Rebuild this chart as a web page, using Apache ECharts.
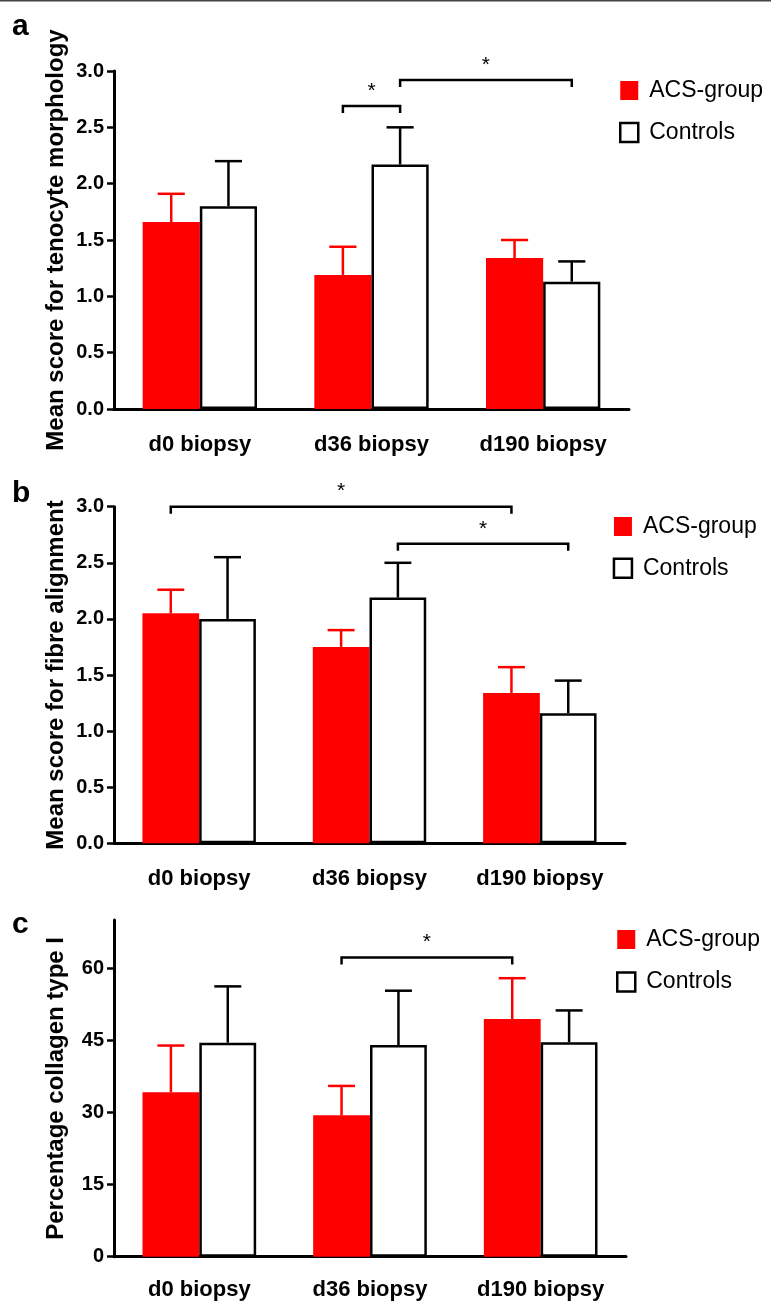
<!DOCTYPE html>
<html>
<head>
<meta charset="utf-8">
<script src="https://cdn.jsdelivr.net/npm/echarts@6/dist/echarts.min.js"></script>
<style>
html,body{margin:0;padding:0;background:#fff;}
#chart{width:771px;height:1301px;}
</style>
</head>
<body>
<div id="chart"></div>
<script>
// ---------- data ----------
const categories = ['d0 biopsy', 'd36 biopsy', 'd190 biopsy'];
const seriesNames = ['ACS-group', 'Controls'];

// Panel a: tenocyte morphology
const aAcsMean = [1.66, 1.19, 1.34];
const aAcsErr  = [0.25, 0.25, 0.16];
const aCtrlMean = [1.80, 2.17, 1.13];
const aCtrlErr  = [0.40, 0.33, 0.18];
const aTicks = [0, 0.5, 1.0, 1.5, 2.0, 2.5, 3.0];
// brackets: [category1, group1, category2, group2, y]
const aBrackets = [[1, 0, 1, 1, 2.69], [1, 1, 2, 1, 2.92]];

// Panel b: fibre alignment
const bAcsMean = [2.05, 1.75, 1.34];
const bAcsErr  = [0.21, 0.15, 0.23];
const bCtrlMean = [2.00, 2.19, 1.16];
const bCtrlErr  = [0.55, 0.31, 0.29];
const bTicks = [0, 0.5, 1.0, 1.5, 2.0, 2.5, 3.0];
const bBrackets = [[0, 0, 2, 0, 3.0], [1, 1, 2, 1, 2.67]];

// Panel c: collagen type I
const cAcsMean = [34.2, 29.4, 49.4];
const cAcsErr  = [9.7, 6.1, 8.5];
const cCtrlMean = [44.5, 44.0, 44.6];
const cCtrlErr  = [11.7, 11.3, 6.6];
const cTicks = [0, 15, 30, 45, 60];
const cBrackets = [[1, 0, 2, 0, 62.2]];

const yTitles = ['Mean score for tenocyte morphology', 'Mean score for fibre alignment', 'Percentage collagen type I'];
const panelLetters = ['a', 'b', 'c'];

// ---------- layout ----------
const FONT = '"Liberation Sans", Arial, Helvetica, sans-serif';
const RED = '#ff0000';
const grids = [
  {left: 114, right: 142, top: 71, bottom: 892},
  {left: 114, right: 146, top: 506.7, bottom: 457.7},
  {left: 114, right: 145, top: 920, bottom: 44.3}
];
const xLabelMargin = [25, 25, 22];
const yRanges = [
  {min: 0, max: 3, interval: 0.5, ticks: aTicks, dec: 1},
  {min: 0, max: 3, interval: 0.5, ticks: bTicks, dec: 1},
  {min: 0, max: 70, interval: 15, ticks: cTicks, dec: 0}
];
const legendPos = [
  {left: 619, top: 79, gap: 19},
  {left: 612.7, top: 515, gap: 18.7},
  {left: 616, top: 928, gap: 19.5}
];
const letterBase = [35, 502, 933];

const panels = [
  {acs: aAcsMean, acsErr: aAcsErr, ctrl: aCtrlMean, ctrlErr: aCtrlErr, br: aBrackets},
  {acs: bAcsMean, acsErr: bAcsErr, ctrl: bCtrlMean, ctrlErr: bCtrlErr, br: bBrackets},
  {acs: cAcsMean, acsErr: cAcsErr, ctrl: cCtrlMean, ctrlErr: cCtrlErr, br: cBrackets}
];

function errRender(side, color) {
  return function (params, api) {
    const c = api.value(0), m = api.value(1), e = api.value(2);
    const base = api.coord([c, m]);
    const top = api.coord([c, m + e]);
    const band = api.size([1, 0])[0];
    const x = base[0] + (side === 0 ? -band / 6 : band / 6);
    const cap = band * 0.158;
    const st = {stroke: color, lineWidth: 2.5, fill: null};
    return {type: 'group', children: [
      {type: 'line', shape: {x1: x, y1: base[1], x2: x, y2: top[1]}, style: st},
      {type: 'line', shape: {x1: x - cap / 2, y1: top[1], x2: x + cap / 2, y2: top[1]}, style: st}
    ]};
  };
}

function bracketRender(params, api) {
  const c1 = api.value(0), s1 = api.value(1), c2 = api.value(2), s2 = api.value(3), y = api.value(4);
  const band = api.size([1, 0])[0];
  const p1 = api.coord([c1, y]);
  const p2 = api.coord([c2, y]);
  const x1 = p1[0] + (s1 === 0 ? -band / 6 : band / 6);
  const x2 = p2[0] + (s2 === 0 ? -band / 6 : band / 6);
  const yy = p1[1];
  const tip = 7;
  return {type: 'group', children: [
    {type: 'polyline', shape: {points: [[x1, yy + tip], [x1, yy], [x2, yy], [x2, yy + tip]]},
     style: {stroke: '#000', lineWidth: 2.5, fill: null}},
    {type: 'text', x: (x1 + x2) / 2, y: yy - 15,
     style: {text: '*', fill: '#000', font: '21px ' + FONT, align: 'center', verticalAlign: 'middle'}}
  ]};
}

const option = {
  backgroundColor: '#fff',
  animation: false,
  textStyle: {fontFamily: FONT},
  grid: grids.map(g => Object.assign({outerBoundsMode: 'none', containLabel: false}, g)),
  legend: legendPos.map((p, i) => ({
    orient: 'vertical', left: p.left, top: p.top, padding: 0,
    itemWidth: 18, itemHeight: 19, itemGap: p.gap, selectedMode: false,
    textStyle: {fontSize: 23, color: '#000', fontFamily: FONT, padding: [0, 0, 0, 6]},
    data: [
      {name: seriesNames[0], icon: 'rect', itemStyle: {color: RED, borderWidth: 0}},
      {name: seriesNames[1], icon: 'rect', itemStyle: {color: '#fff', borderColor: '#000', borderWidth: 2.5}}
    ]
  })),
  xAxis: grids.map((g, i) => ({
    type: 'category', gridIndex: i, data: categories,
    axisLine: {show: true, lineStyle: {color: '#000', width: 3}},
    axisTick: {show: false},
    axisLabel: {color: '#000', fontSize: 22, fontWeight: 'bold', fontFamily: FONT, margin: xLabelMargin[i], interval: 0},
    splitLine: {show: false}
  })),
  yAxis: yRanges.map((r, i) => ({
    type: 'value', gridIndex: i, min: r.min, max: r.max, interval: r.interval,
    name: yTitles[i], nameLocation: 'middle', nameRotate: 90, nameGap: 46, nameMoveOverlap: false,
    nameTextStyle: {color: '#000', fontSize: 24, fontWeight: 'bold', fontFamily: FONT},
    axisLine: {show: true, lineStyle: {color: '#000', width: 3}},
    axisTick: {show: true, length: 7, lineStyle: {color: '#000', width: 2.5}, customValues: r.ticks},
    axisLabel: {color: '#000', fontSize: 20, fontWeight: 'bold', fontFamily: FONT, margin: 10,
      customValues: r.ticks, formatter: v => Number(v).toFixed(r.dec)},
    splitLine: {show: false}
  })),
  graphic: [
    {type: 'line', shape: {x1: 0, y1: 0.75, x2: 771, y2: 0.75}, style: {stroke: '#444', lineWidth: 1.5}},
    ...panelLetters.map((t, i) => ({
      type: 'text', left: 12, top: letterBase[i] - 23,
      style: {text: t, font: 'bold 30px ' + FONT, fill: '#000'}
    }))
  ],
  series: []
};

panels.forEach((p, i) => {
  option.series.push({
    type: 'bar', name: seriesNames[0], xAxisIndex: i, yAxisIndex: i,
    data: p.acs, barWidth: '33.3%', barGap: '0%',
    itemStyle: {color: RED, borderWidth: 0}, z: 2
  });
  option.series.push({
    type: 'bar', name: seriesNames[1], xAxisIndex: i, yAxisIndex: i,
    data: p.ctrl, barWidth: '33.3%', barGap: '0%',
    itemStyle: {color: '#fff', borderColor: '#000', borderWidth: 2.5}, z: 2
  });
  option.series.push({
    type: 'custom', name: 'errA' + i, xAxisIndex: i, yAxisIndex: i, z: 3, clip: false,
    renderItem: errRender(0, RED), encode: {x: 0, y: 1},
    data: p.acs.map((m, k) => [k, m, p.acsErr[k]])
  });
  option.series.push({
    type: 'custom', name: 'errC' + i, xAxisIndex: i, yAxisIndex: i, z: 3, clip: false,
    renderItem: errRender(1, '#000'), encode: {x: 0, y: 1},
    data: p.ctrl.map((m, k) => [k, m, p.ctrlErr[k]])
  });
  option.series.push({
    type: 'custom', name: 'br' + i, xAxisIndex: i, yAxisIndex: i, z: 4, clip: false,
    renderItem: bracketRender, encode: {x: 0, y: 4},
    data: p.br
  });
});

const chart = echarts.init(document.getElementById('chart'), null, {renderer: 'canvas'});
chart.setOption(option);
</script>
</body>
</html>
